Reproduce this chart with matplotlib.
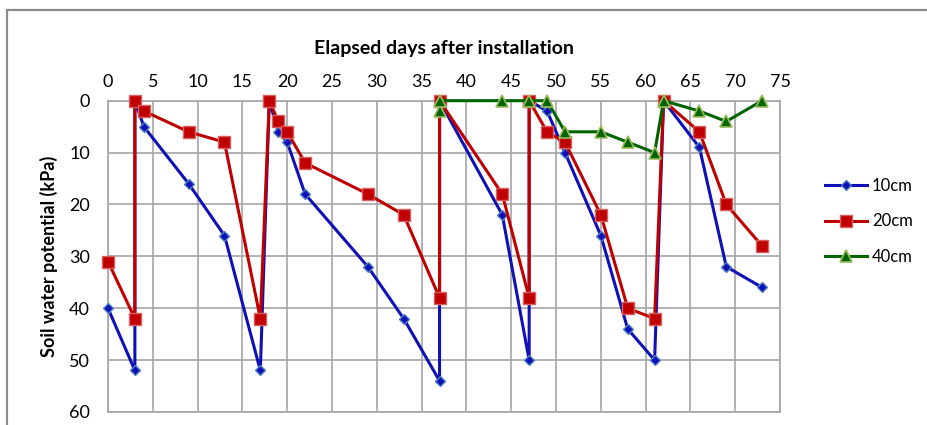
import matplotlib
matplotlib.use("Agg")
from matplotlib import pyplot as plt
from matplotlib.patches import Rectangle

plt.rcParams['font.family'] = ['Lato', 'DejaVu Sans']

# Elapsed days / soil water potential (kPa) per sensor depth
days_10 = [0, 3, 3, 4, 9, 13, 17, 18, 19, 20, 22, 29, 33, 37, 37, 44, 47, 47,
           49, 51, 55, 58, 61, 62, 66, 69, 73]
swp_10 = [40, 52, 0, 5, 16, 26, 52, 0, 6, 8, 18, 32, 42, 54, 0, 22, 50, 0,
          2, 10, 26, 44, 50, 0, 9, 32, 36]

days_20 = [0, 3, 3, 4, 9, 13, 17, 18, 19, 20, 22, 29, 33, 37, 37, 44, 47, 47,
           49, 51, 55, 58, 61, 62, 66, 69, 73]
swp_20 = [31, 42, 0, 2, 6, 8, 42, 0, 4, 6, 12, 18, 22, 38, 0, 18, 38, 0,
          6, 8, 22, 40, 42, 0, 6, 20, 28]

days_40 = [37, 37, 44, 47, 49, 51, 55, 58, 61, 62, 66, 69, 73]
swp_40 = [2, 0, 0, 0, 0, 6, 6, 8, 10, 0, 2, 4, 0]

fig = plt.figure(figsize=(9.27, 4.25), dpi=100)
ax = fig.add_axes([0.1165, 0.0306, 0.725, 0.7325])

# chart area border
fig.patches.append(Rectangle((7/927, -0.1), 1.2, 1 - 10/425 + 0.1,
                             transform=fig.transFigure, fill=False,
                             edgecolor='#8c8c8c', linewidth=1.6))

ax.plot(days_10, swp_10, '-', color='#1010b8', linewidth=2.2, marker='D',
        markersize=5.5, markerfacecolor='#1010b8', markeredgecolor='#4f81bd',
        markeredgewidth=1.0, label='10cm', zorder=3, clip_on=False)
ax.plot(days_20, swp_20, '-', color='#c00000', linewidth=2.2, marker='s',
        markersize=9, markerfacecolor='#c00000', markeredgecolor='#d86060',
        markeredgewidth=1.0, label='20cm', zorder=4, clip_on=False)
ax.plot(days_40, swp_40, '-', color='#006400', linewidth=2.2, marker='^',
        markersize=8, markerfacecolor='#006400', markeredgecolor='#9bbb59',
        markeredgewidth=1.2, label='40cm', zorder=5, clip_on=False)

ax.set_xlim(0, 75)
ax.set_ylim(60, 0)
ax.set_xticks(range(0, 76, 5))
ax.set_yticks(range(0, 61, 10))
ax.xaxis.tick_top()
ax.xaxis.set_label_position('top')
ax.tick_params(length=0, labelsize=13, colors='#000000', pad=8)
ax.tick_params(axis='y', pad=13)
ax.set_xlabel("Elapsed days after installation", fontsize=14, fontweight='bold',
              labelpad=14)
ax.set_ylabel("Soil water potential (kPa)", fontsize=13, fontweight='bold',
              labelpad=8)
ax.grid(color='#a6a6a6', linewidth=1.2)
ax.set_axisbelow(True)
for s in ax.spines.values():
    s.set_color('#a6a6a6')
    s.set_linewidth(1.2)

ax.legend(loc='center left', bbox_to_anchor=(1.045, 0.612), frameon=False,
          fontsize=12, handlelength=2.5, labelspacing=1.15, handletextpad=0.3)

fig.savefig("out.png", dpi=100)
